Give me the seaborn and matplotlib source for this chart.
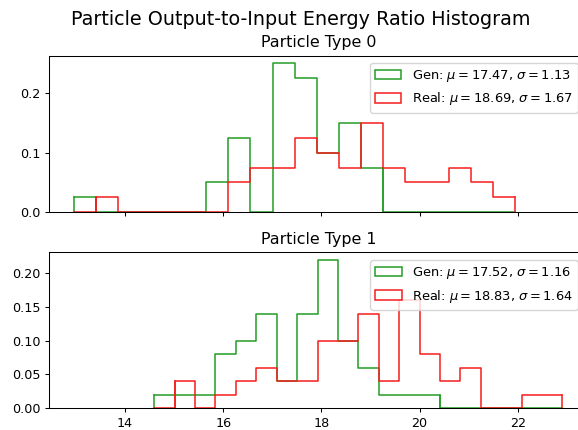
import numpy as np
import pandas as pd
import matplotlib
matplotlib.use("Agg")
import matplotlib.pyplot as plt
from matplotlib.patches import Patch
import seaborn as sns

# ---- data (counts per bin; plotted as fraction of total) ----
# Particle Type 0: 20 shared bins between these limits
p0_range = (12.965, 21.94)
p0_gen_counts = [1, 0, 0, 0, 0, 0, 2, 5, 0, 10, 9, 4, 6, 3, 0, 0, 0, 0, 0, 0]
p0_real_counts = [0, 1, 0, 0, 0, 0, 0, 2, 3, 3, 5, 4, 3, 6, 3, 2, 2, 3, 2, 1]
p0_gen_stats = (17.47, 1.13)
p0_real_stats = (18.69, 1.67)

# Particle Type 1
p1_range = (14.595, 22.91)
p1_gen_counts = [1, 1, 1, 4, 5, 7, 2, 7, 11, 5, 3, 1, 1, 1, 0, 0, 0, 0, 0, 0]
p1_real_counts = [0, 2, 0, 1, 2, 3, 2, 2, 5, 5, 7, 2, 8, 4, 2, 3, 0, 0, 1, 1]
p1_gen_stats = (17.52, 1.16)
p1_real_stats = (18.83, 1.64)

titles = ["Particle Type 0", "Particle Type 1"]
suptitle = "Particle Output-to-Input Energy Ratio Histogram"
xticks = [14, 16, 18, 20, 22]

GREEN = "#249c24"
RED = "#f51c1c"
LW = 1.1

plt.rcParams.update({
    "axes.linewidth": 0.75,
    "xtick.major.size": 3.2, "ytick.major.size": 3.2,
    "xtick.major.width": 0.75, "ytick.major.width": 0.75,
    "xtick.major.pad": 3.2, "ytick.major.pad": 3.2,
    "xtick.labelsize": 9.2, "ytick.labelsize": 9.2,
})

fig = plt.figure(figsize=(5.78, 4.30), dpi=100)
ax0 = fig.add_axes([0.0848, 0.5063, 0.934, 0.3642])
ax1 = fig.add_axes([0.0848, 0.0512, 0.934, 0.3620], sharex=ax0)

panels = [
    (ax0, p0_range, p0_gen_counts, p0_real_counts, p0_gen_stats, p0_real_stats, titles[0], 62.7),
    (ax1, p1_range, p1_gen_counts, p1_real_counts, p1_gen_stats, p1_real_stats, titles[1], 260.0),
]

for ax, rng, gc, rc, gs, rs, title, leg_top in panels:
    edges = np.linspace(rng[0], rng[1], len(gc) + 1)
    centers = (edges[:-1] + edges[1:]) / 2
    gc = np.asarray(gc, float)
    rc = np.asarray(rc, float)
    gfrac = gc / gc.sum()
    rfrac = rc / rc.sum()
    for frac, col in ((gfrac, GREEN), (rfrac, RED)):
        df = pd.DataFrame({"x": centers, "w": frac})
        sns.histplot(data=df, x="x", weights="w", bins=edges.tolist(), element="step",
                     fill=False, color=col, ax=ax, linewidth=LW)
        nz = np.nonzero(frac)[0]
        lo, hi = edges[nz[0]], edges[nz[-1] + 1]
        ax.plot([lo, lo], [0, frac[nz[0]]], color=col, lw=LW)
        ax.plot([hi, hi], [0, frac[nz[-1]]], color=col, lw=LW)
    ymax = max(gfrac.max(), rfrac.max())
    ax.set_ylim(0, ymax * 1.05)
    ax.set_ylabel("")
    ax.set_xlabel("")
    ax.set_title(title, fontsize=11.4)
    handles = [Patch(facecolor="none", edgecolor=GREEN, lw=LW),
               Patch(facecolor="none", edgecolor=RED, lw=LW)]
    labels = [r"Gen: $\mu = %.2f$, $\sigma = %.2f$" % gs,
              r"Real: $\mu = %.2f$, $\sigma = %.2f$" % rs]
    ax.legend(handles, labels, loc="upper right", fontsize=9.4,
              bbox_to_anchor=(1.0, 1 - leg_top / 430), bbox_transform=fig.transFigure,
              borderaxespad=0, handleheight=0.75)

ax0.set_xlim(12.45, 23.45)
ax0.set_xticks(xticks)
ax0.tick_params(labelbottom=False)
ax1.set_xticks(xticks)
ax0.set_yticks([0.0, 0.1, 0.2])
ax1.set_yticks([0.0, 0.05, 0.10, 0.15, 0.20])
ax1.set_yticklabels(["0.00", "0.05", "0.10", "0.15", "0.20"])
ax0.set_yticklabels(["0.0", "0.1", "0.2"])

fig.suptitle(suptitle, fontsize=13.8, x=0.521, y=0.977)
fig.savefig("out.png", dpi=100)
